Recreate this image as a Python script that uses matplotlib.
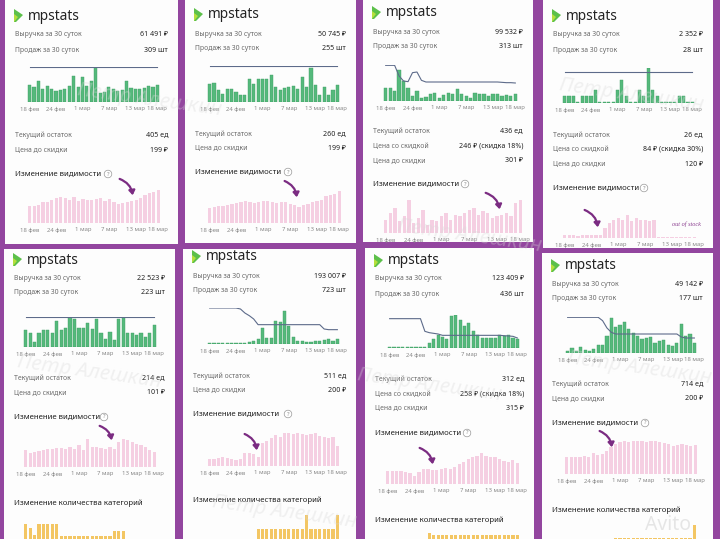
import matplotlib
matplotlib.use('Agg')
import matplotlib.pyplot as plt
from matplotlib.patches import Rectangle, Polygon, FancyArrowPatch

plt.rcParams['font.family'] = ['Noto Sans', 'DejaVu Sans']

W, H = 720, 539

#%% data

days = list(range(30))
tick_idx = [0, 6, 12, 18, 24, 29]
tick_lab = ['18 фев', '24 фев', '1 мар', '7 мар', '13 мар', '18 мар']

# card 1
top_1 = [('Выручка за 30 суток', '61 491 ₽'), ('Продаж за 30 суток', '309 шт')]
mid_1 = [('Текущий остаток', '405 ед'), ('Цена до скидки', '199 ₽')]
sales_1 = [52, 45, 62, 40, 48, 38, 32, 35, 40, 48, 78, 45, 75, 48, 62, 105, 28, 30, 45, 40,
           32, 35, 62, 42, 38, 40, 42, 48, 45, 50]
price_1 = [104, 104, 104, 104, 104, 104, 104, 104, 104, 104, 104, 104, 104, 104, 104, 104, 104, 104, 104, 104,
           104, 104, 104, 104, 104, 104, 104, 104, 104, 104]
vis_1 = [50, 50, 55, 62, 62, 70, 75, 78, 75, 70, 78, 65, 72, 70, 70, 72, 75, 65, 72, 62,
         58, 60, 62, 65, 70, 75, 85, 90, 92, 98]

# card 2
top_2 = [('Выручка за 30 суток', '50 745 ₽'), ('Продаж за 30 суток', '255 шт')]
mid_2 = [('Текущий остаток', '260 ед'), ('Цена до скидки', '199 ₽')]
sales_2 = [55, 58, 35, 25, 40, 40, 30, 22, 22, 68, 55, 70, 70, 68, 80, 45, 35, 42, 45, 48,
           40, 75, 45, 103, 52, 20, 45, 22, 35, 50]
price_2 = [107, 107, 107, 107, 107, 107, 107, 107, 107, 107, 107, 107, 107, 107, 107, 107, 107, 107, 107, 107,
           107, 107, 107, 107, 107, 107, 107, 107, 107, 107]
vis_2 = [45, 48, 50, 52, 55, 58, 60, 62, 65, 63, 60, 62, 65, 66, 62, 60, 63, 62, 58, 55,
         48, 55, 58, 62, 65, 70, 80, 85, 88, 95]

# card 3
top_3 = [('Выручка за 30 суток', '99 532 ₽'), ('Продаж за 30 суток', '313 шт')]
mid_3 = [('Текущий остаток', '436 ед'), ('Цена со скидкой', '246 ₽ (скидка 18%)'),
         ('Цена до скидки', '301 ₽')]
sales_3 = [40, 38, 30, 92, 60, 40, 15, 30, 10, 12, 22, 25, 10, 18, 25, 20, 35, 22, 15, 10,
           25, 22, 20, 15, 22, 20, 15, 18, 15, 20]
price_3 = [107, 107, 107, 75, 60, 58, 85, 87, 62, 57, 57, 57, 57, 57, 57, 57, 57, 57, 57, 57,
           57, 57, 57, 57, 57, 57, 56, 55, 55, 54]
vis_3 = [40, 60, 75, 35, 50, 100, 30, 45, 70, 25, 40, 35, 50, 60, 40, 55, 50, 60, 70, 75,
         55, 65, 60, 45, 50, 55, 60, 50, 90, 100]

# card 4
top_4 = [('Выручка за 30 суток', '2 352 ₽'), ('Продаж за 30 суток', '28 шт')]
mid_4 = [('Текущий остаток', '26 ед'), ('Цена со скидкой', '84 ₽ (скидка 30%)'),
         ('Цена до скидки', '120 ₽')]
sales_4 = [20, 20, 20, 2, 20, 20, 20, 38, 2, 2, 2, 2, 38, 70, 20, 2, 2, 38, 20, 105,
           38, 20, 2, 2, 2, 2, 20, 20, 2, 2]
price_4 = [92, 92, 92, 92, 92, 92, 92, 92, 92, 92, 92, 92, 92, 92, 92, 92, 92, 92, 92, 92,
           92, 92, 92, 92, 92, 92, 92, 92, 92, 92]
vis_4 = [8, 8, 8, 7, 8, 8, 8, 8, 10, 30, 45, 55, 60, 55, 70, 50, 60, 55, 55, 50,
         55, 3, 3, 3, 3, 3, 3, 3, 3, 3]

# card 5
top_5 = [('Выручка за 30 суток', '22 523 ₽'), ('Продаж за 30 суток', '223 шт')]
mid_5 = [('Текущий остаток', '214 ед'), ('Цена до скидки', '101 ₽')]
sales_5 = [50, 43, 15, 43, 50, 50, 43, 77, 50, 57, 90, 83, 57, 57, 73, 55, 85, 43, 23, 45,
           20, 83, 90, 43, 43, 35, 43, 30, 43, 65]
price_5 = [90, 90, 90, 90, 90, 90, 90, 90, 90, 90, 90, 90, 90, 90, 90, 90, 90, 90, 90, 90,
           90, 90, 90, 90, 90, 90, 90, 90, 90, 90]
vis_5 = [50, 42, 45, 48, 50, 55, 55, 58, 58, 55, 60, 55, 65, 50, 85, 60, 60, 58, 55, 60,
         55, 75, 85, 80, 75, 70, 65, 60, 50, 45]
cat_5 = [41, 37, 30, 41, 41, 41, 41, 41, 29, 29, 29, 29, 29, 29, 29, 29, 29, 29, 29, 29,
         34, 34, 34, 20, 20, 20, 20, 20, 20, 20]

# card 6
top_6 = [('Выручка за 30 суток', '193 007 ₽'), ('Продаж за 30 суток', '723 шт')]
mid_6 = [('Текущий остаток', '511 ед'), ('Цена до скидки', '200 ₽')]
sales_6 = [2, 2, 2, 2, 2, 2, 2, 2, 3, 5, 8, 15, 48, 18, 18, 70, 66, 98, 55, 20,
           10, 8, 5, 5, 8, 8, 12, 15, 10, 15]
price_6 = [108, 108, 108, 108, 108, 108, 108, 105, 93, 85, 75, 58, 58, 58, 58, 58, 58, 58, 58, 58,
           58, 58, 58, 58, 58, 58, 45, 43, 43, 43]
vis_6 = [20, 22, 25, 28, 25, 22, 18, 20, 38, 40, 35, 28, 70, 75, 85, 92, 88, 100, 98, 95,
         100, 96, 92, 95, 98, 90, 88, 85, 88, 60]
cat_6 = [20, 20, 20, 20, 20, 20, 20, 20, 20, 20, 20, 36, 36, 36, 36, 36, 36, 36, 36, 36,
         36, 36, 50, 36, 36, 36, 36, 36, 36, 50]

# card 7
top_7 = [('Выручка за 30 суток', '123 409 ₽'), ('Продаж за 30 суток', '436 шт')]
mid_7 = [('Текущий остаток', '312 ед'), ('Цена со скидкой', '258 ₽ (скидка 18%)'),
         ('Цена до скидки', '315 ₽')]
sales_7 = [2, 2, 2, 2, 2, 2, 2, 2, 2, 15, 28, 38, 32, 28, 95, 100, 85, 65, 75, 50,
           40, 30, 30, 30, 30, 38, 35, 40, 30, 28]
price_7 = [88, 88, 88, 88, 88, 88, 88, 88, 50, 46, 44, 42, 38, 38, 38, 38, 38, 38, 38, 38,
           38, 38, 38, 38, 38, 38, 37, 36, 35, 30]
vis_7 = [38, 38, 38, 38, 35, 32, 25, 35, 45, 45, 42, 42, 45, 48, 45, 50, 60, 65, 75, 80,
         85, 93, 85, 80, 80, 75, 70, 65, 72, 62]
cat_7 = [20, 20, 20, 20, 20, 20, 20, 20, 20, 32, 30, 30, 30, 30, 30, 30, 30, 30, 30, 30,
         30, 30, 30, 30, 30, 30, 30, 30, 30, 30]

# card 8
top_8 = [('Выручка за 30 суток', '49 142 ₽'), ('Продаж за 30 суток', '177 шт')]
mid_8 = [('Текущий остаток', '714 ед'), ('Цена до скидки', '200 ₽')]
sales_8 = [5, 15, 5, 18, 10, 5, 12, 25, 25, 50, 105, 78, 85, 92, 72, 60, 50, 42, 45, 48,
           30, 35, 38, 25, 20, 30, 88, 50, 58, 30]
price_8 = [107, 107, 107, 107, 107, 107, 107, 107, 97, 75, 62, 57, 57, 57, 57, 57, 57, 57, 57, 57,
           57, 57, 57, 57, 57, 57, 48, 45, 45, 45]
vis_8 = [52, 52, 52, 52, 55, 52, 62, 58, 60, 68, 80, 90, 95, 98, 95, 98, 100, 98, 95, 100,
         98, 96, 92, 90, 85, 88, 90, 88, 85, 88]
cat_8 = [20, 20, 20, 20, 20, 20, 20, 20, 20, 20, 20, 27, 27, 27, 27, 27, 27, 27, 27, 27,
         27, 27, 27, 27, 27, 27, 27, 27, 27, 40]

#%% layout, in pixels of the 720x539 picture

cards = [
    dict(rect=(5, 0, 178, 244), logo=16, top=top_1, top_y=[35, 51], sales=sales_1, price=price_1,
         cx=(27, 160), base=102, mid=mid_1, mid_y=[135, 150], title=174, q=108,
         vis=vis_1, vx=(27, 161), vbase=223, arrow=(117, 178, 133, 198)),
    dict(rect=(185, 0, 356, 243), logo=15, top=top_2, top_y=[34, 49], sales=sales_2, price=price_2,
         cx=(207, 340), base=102, mid=mid_2, mid_y=[134, 148], title=172, q=288,
         vis=vis_2, vx=(207, 342), vbase=223, arrow=(282, 180, 297, 200)),
    dict(rect=(363, 0, 533, 242), logo=13, top=top_3, top_y=[32, 46], sales=sales_3, price=price_3,
         cx=(383, 518), base=101, mid=mid_3, mid_y=[131, 146, 161], title=184, q=465,
         vis=vis_3, vx=(383, 523), vbase=233, arrow=(483, 192, 500, 212)),
    dict(rect=(543, 0, 713, 248), logo=16, top=top_4, top_y=[34, 50], sales=sales_4, price=price_4,
         cx=(562, 695), base=103, mid=mid_4, mid_y=[135, 149, 164], title=188, q=644,
         vis=vis_4, vx=(562, 697), vbase=238, arrow=(582, 209, 598, 230), oos=(672, 224)),
    dict(rect=(4, 249, 175, 539), logo=260, top=top_5, top_y=[278, 293], sales=sales_5, price=price_5,
         cx=(23, 157), base=347, mid=mid_5, mid_y=[378, 393], title=417, q=104,
         vis=vis_5, vx=(23, 157), vbase=467, arrow=(97, 425, 112, 443), cat=cat_5, cat_y=503),
    dict(rect=(183, 249, 356, 539), logo=257, top=top_6, top_y=[276, 291], sales=sales_6, price=price_6,
         cx=(207, 340), base=344, mid=mid_6, mid_y=[376, 390], title=414, q=288,
         vis=vis_6, vx=(207, 340), vbase=466, arrow=(242, 433, 257, 453), cat=cat_6, cat_y=500),
    dict(rect=(365, 248, 534, 539), logo=261, top=top_7, top_y=[279, 294], sales=sales_7, price=price_7,
         cx=(387, 520), base=348, mid=mid_7, mid_y=[379, 394, 408], title=433, q=467,
         vis=vis_7, vx=(385, 520), vbase=484, arrow=(417, 447, 433, 467), cat=cat_7, cat_y=520),
    dict(rect=(542, 253, 713, 539), logo=266, top=top_8, top_y=[285, 299], sales=sales_8, price=price_8,
         cx=(565, 697), base=353, mid=mid_8, mid_y=[384, 399], title=423, q=645,
         vis=vis_8, vx=(564, 698), vbase=474, arrow=(597, 430, 612, 450), cat=cat_8, cat_y=510),
]

PURPLE = '#93469f'
GREEN = '#55b97c'
LINE = '#5d6b8a'
PINK = '#f5cfe2'
ORANGE = '#f3c663'


def fx(x):
    return x / W


def fy(y):
    return 1 - y / H


def chart_ax(x0, x1, base, ymax, ticks=True):
    # data units are 1/3 pixel, so the axes height is ymax/3 px
    ax = fig.add_axes([fx(x0), fy(base), (x1 - x0) / W, ymax / 3 / H])
    ax.set_xlim(-0.6, 29.6)
    ax.set_ylim(0, ymax)
    ax.patch.set_alpha(0)
    for s in ax.spines.values():
        s.set_visible(False)
    ax.set_yticks([])
    if ticks:
        ax.set_xticks(tick_idx, tick_lab, fontsize=4.3, color='#8a8a8a')
        ax.tick_params(length=0, pad=3.2)
    else:
        ax.set_xticks([])
    return ax


fig = plt.figure(figsize=(7.2, 5.39), dpi=100)
fig.patch.set_facecolor(PURPLE)

for c in cards:
    x0, y0, x1, y1 = c['rect']
    fig.add_artist(Rectangle((fx(x0), fy(y1)), (x1 - x0) / W, (y1 - y0) / H,
                             transform=fig.transFigure, fc='#fdfdfd', ec='none', zorder=0))

    # logo + name
    ly = c['logo']
    fig.add_artist(Polygon([(fx(x0 + 9), fy(ly - 7)), (fx(x0 + 18), fy(ly - 1)), (fx(x0 + 11), fy(ly + 6)),
                            (fx(x0 + 9), fy(ly + 6))], closed=True, transform=fig.transFigure,
                           fc='#5cc04a', ec='none'))
    fig.add_artist(Polygon([(fx(x0 + 9), fy(ly - 2)), (fx(x0 + 13), fy(ly + 1)), (fx(x0 + 9), fy(ly + 6))],
                           closed=True, transform=fig.transFigure, fc='#b5df3c', ec='none'))
    fig.text(fx(x0 + 23), fy(ly), 'mpstats', fontsize=9.8, weight='medium', color='#222222',
             va='center', ha='left')

    for (lab, val), yy in zip(c['top'] + c['mid'], c['top_y'] + c['mid_y']):
        fig.text(fx(x0 + 10), fy(yy), lab, fontsize=4.9, color='#6a6a6a', va='center')
        fig.text(fx(x1 - 10), fy(yy), val, fontsize=5.1, color='#222222', weight='bold',
                 va='center', ha='right')

    # sales chart
    ymax = max(max(c['sales']), max(c['price']))
    ax = chart_ax(c['cx'][0], c['cx'][1], c['base'], ymax)
    ax.bar(days, c['sales'], width=0.72, color=GREEN, edgecolor='#3f9e63', linewidth=0.3)
    ax.plot(days, c['price'], color=LINE, lw=0.8)

    # visibility
    fig.text(fx(x0 + 10), fy(c['title']), 'Изменение видимости', fontsize=5.6, weight='bold',
             color='#222222', va='center')
    fig.text(fx(c['q']), fy(c['title']), '?', fontsize=4.2, color='#888888', ha='center', va='center',
             bbox=dict(boxstyle='circle,pad=0.22', fc='white', ec='#999999', lw=0.5))
    ax = chart_ax(c['vx'][0], c['vx'][1], c['vbase'], max(c['vis']))
    ax.bar(days, c['vis'], width=0.72, color=PINK)

    a0, b0, a1, b1 = c['arrow']
    fig.add_artist(FancyArrowPatch((fx(a0), fy(b0)), (fx(a1), fy(b1)), transform=fig.transFigure,
                                   connectionstyle='arc3,rad=-0.35',
                                   arrowstyle='-|>,head_length=2.6,head_width=1.8',
                                   color='#7b2c82', lw=1.6, zorder=5))

    if 'oos' in c:
        fig.text(fx(c['oos'][0]), fy(c['oos'][1]), 'out of stock', fontsize=4.5, style='italic',
                 family='Liberation Serif', color='#8a3d8f', va='center')

    # categories, only the top of it is in the picture (values are pixels above a base at y=565)
    if 'cat' in c:
        fig.text(fx(x0 + 10), fy(c['cat_y']), 'Изменение количества категорий', fontsize=5.6,
                 weight='bold', color='#222222', va='center')
        ax = chart_ax(c['cx'][0], c['cx'][1], 565, 3 * max(c['cat']), ticks=False)
        ax.bar(days, [3 * v for v in c['cat']], width=0.72, color=ORANGE)

# watermarks
for (wx, wy) in [(150, 100), (470, 236), (90, 372), (285, 512), (430, 385), (640, 368), (632, 95)]:
    fig.text(fx(wx), fy(wy), 'Петр Алешкин', fontsize=15, style='italic', color='#d8d8d8', alpha=0.35,
             ha='center', va='center', rotation=-8, zorder=6)
fig.text(fx(668), fy(525), 'Avito', fontsize=14, weight='bold', color='#e0e0e0', alpha=0.8,
         ha='center', va='center', zorder=6)

fig.savefig('out.png', dpi=100, facecolor=fig.get_facecolor())
